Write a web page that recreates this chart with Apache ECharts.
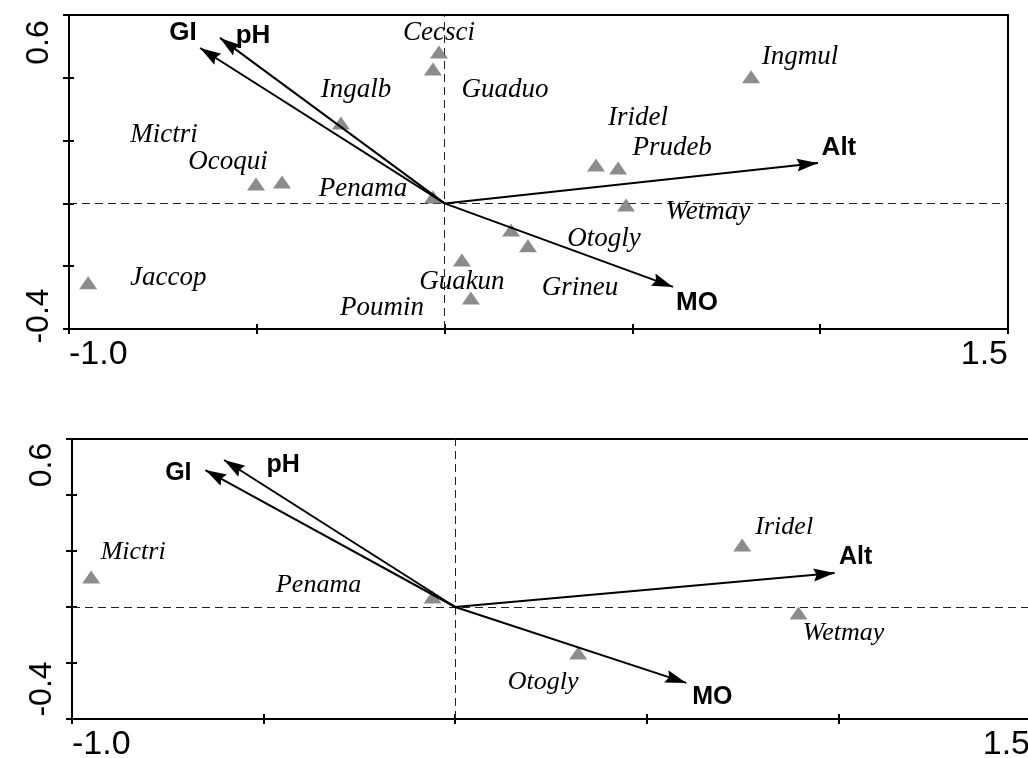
<!DOCTYPE html>
<html>
<head>
<meta charset="utf-8">
<script src="https://cdn.jsdelivr.net/npm/echarts@6/dist/echarts.min.js"></script>
<style>
html,body{margin:0;padding:0;background:#fff;}
#c{width:1028px;height:758px;}
</style>
</head>
<body>
<div id="c"></div>
<script>
// ---------- data ----------
const xTickLabels = ['-1.0', '1.5'];
const yTickLabels = ['-0.4', '0.6'];
const xRange = [-1.0, 1.5];
const yRange = [-0.4, 0.6];

const envNames = ['GI', 'pH', 'Alt', 'MO'];

// top panel
const speciesTop = ['Cecsci','Guaduo','Ingalb','Mictri','Ocoqui','Penama','Jaccop','Guakun','Poumin','Otogly','Grineu','Iridel','Prudeb','Wetmay','Ingmul'];
const speciesTopX = [-0.015,-0.031,-0.276,-0.502,-0.433,-0.031,-0.949,0.046,0.070,0.177,0.222,0.403,0.462,0.483,0.816];
const speciesTopY = [0.482,0.428,0.256,0.062,0.068,0.020,-0.253,-0.180,-0.301,-0.085,-0.135,0.122,0.113,-0.005,0.403];
const envTopX = [-0.651,-0.598,0.994,0.608];
const envTopY = [0.495,0.527,0.129,-0.266];

// bottom panel
const speciesBottom = ['Mictri','Penama','Otogly','Iridel','Wetmay'];
const speciesBottomX = [-0.950,-0.059,0.321,0.749,0.896];
const speciesBottomY = [0.107,0.036,-0.164,0.221,-0.021];
const envBottomX = [-0.652,-0.603,0.990,0.603];
const envBottomY = [0.489,0.525,0.121,-0.271];

// ---------- label placement (style) ----------
const spLabelOffTop = {Cecsci:[0,-19],Guaduo:[72,21],Ingalb:[15,-33],Mictri:[-92,-49],Ocoqui:[-54,-20],Penama:[-70,-8],Jaccop:[80,-5],Guakun:[0,22],Poumin:[-89,10],Otogly:[93,9],Grineu:[52,42],Iridel:[42,-47],Prudeb:[54,-20],Wetmay:[82,7],Ingmul:[49,-20]};
const spLabelOffBottom = {Mictri:[42,-25],Penama:[-114,-12],Otogly:[-35,29],Iridel:[42,-18],Wetmay:[45,20]};
const envLabelOffTop = {GI:[-17,-15],pH:[33,-2],Alt:[21,-15],MO:[24,16]};
const envLabelOffBottom = {GI:[-27,3],pH:[59,5],Alt:[21,-16],MO:[26,14]};

const ARROW = 'path://M0,0L6.5,21L0,18L-6.5,21Z M-22,-22 M22,22';
const near = (a, b) => Math.abs(a - b) < 1e-6;

function makeXAxes(g) {
  const base = {type:'value', gridIndex:g, min:xRange[0], max:xRange[1], interval:0.5,
    splitLine:{show:false}, position:'bottom'};
  return [
    Object.assign({}, base, {
      axisLine:{show:true, onZero:false, lineStyle:{color:'#000', width:2}},
      axisTick:{show:true, inside:false, length:5, lineStyle:{color:'#000', width:2}},
      axisLabel:{show:true, margin:9, fontFamily:'Liberation Sans', fontSize:34, color:'#000',
        alignMinLabel:'left', alignMaxLabel:'right',
        formatter: v => near(v, xRange[0]) ? xTickLabels[0] : (near(v, xRange[1]) ? xTickLabels[1] : '')}
    }),
    Object.assign({}, base, {
      axisLine:{show:false, onZero:false},
      axisTick:{show:true, inside:true, length:5, lineStyle:{color:'#000', width:2}},
      axisLabel:{show:false}
    })
  ];
}
function makeYAxes(g, padTop, padBot) {
  const base = {type:'value', gridIndex:g, min:yRange[0], max:yRange[1], interval:0.2,
    splitLine:{show:false}, position:'left'};
  const rs = {fontFamily:'Liberation Sans', fontSize:32, color:'#000'};
  return [
    Object.assign({}, base, {
      axisLine:{show:true, onZero:false, lineStyle:{color:'#000', width:2}},
      axisTick:{show:true, inside:false, length:6, lineStyle:{color:'#000', width:2}},
      axisLabel:{show:true, rotate:90, margin:14, fontFamily:'Liberation Sans', fontSize:32, color:'#000',
        formatter: v => near(v, yRange[1]) ? '{t|' + yTickLabels[1] + '}' : (near(v, yRange[0]) ? '{b|' + yTickLabels[0] + '}' : ''),
        rich:{t:Object.assign({padding:[0,padTop,0,0]}, rs), b:Object.assign({padding:[0,0,0,padBot]}, rs)}}
    }),
    Object.assign({}, base, {
      axisLine:{show:false, onZero:false},
      axisTick:{show:true, inside:true, length:5, lineStyle:{color:'#000', width:2}},
      axisLabel:{show:false}
    })
  ];
}

function panelSeries(axisIdx, names, xs, ys, envX, envY, spOff, envOff, spFont, envFont) {
  const sp = names.map((n, i) => ({name:n, value:[xs[i], ys[i]], label:{offset:spOff[n]}}));
  const arrows = envNames.map((n, i) => ({name:n, coords:[[0, 0], [envX[i], envY[i]]]}));
  const envPts = envNames.map((n, i) => ({name:n, value:[envX[i], envY[i]], label:{offset:envOff[n]}}));
  return [
    {
      type:'scatter', xAxisIndex:axisIdx, yAxisIndex:axisIdx, data:sp, z:2,
      symbol:'triangle', symbolSize:[18,13], itemStyle:{color:'#6f6f6f'},
      label:{show:true, position:'inside', formatter:p => p.name, color:'#000', opacity:1,
        fontFamily:'Liberation Serif', fontStyle:'italic', fontSize:spFont, align:'center', verticalAlign:'middle'},
      markLine:{silent:true, symbol:['none','none'], animation:false, z:1,
        lineStyle:{color:'#222', width:1, type:[8,5]}, label:{show:false},
        data:[{xAxis:0}, {yAxis:0}]}
    },
    {
      type:'lines', coordinateSystem:'cartesian2d', xAxisIndex:axisIdx, yAxisIndex:axisIdx, z:3,
      data:arrows, symbol:['none', ARROW], symbolSize:44,
      lineStyle:{color:'#000', width:2, opacity:1, curveness:0}, silent:true
    },
    {
      type:'scatter', xAxisIndex:axisIdx, yAxisIndex:axisIdx, data:envPts, z:4,
      symbolSize:1, itemStyle:{color:'rgba(0,0,0,0)'}, silent:true,
      label:{show:true, position:'inside', formatter:p => p.name, color:'#000', opacity:1,
        fontFamily:'Liberation Sans', fontWeight:'bold', fontSize:envFont, align:'center', verticalAlign:'middle'}
    }
  ];
}

const chart = echarts.init(document.getElementById('c'), null, {renderer:'canvas'});
const xa0 = makeXAxes(0), xa1 = makeXAxes(1);
const ya0 = makeYAxes(0, 55, 26), ya1 = makeYAxes(1, 52, 60);
chart.setOption({
  animation:false,
  backgroundColor:'#fff',
  grid:[
    {left:69, top:15, width:939, height:314, show:true, borderColor:'#000', borderWidth:2, backgroundColor:'transparent', containLabel:false, outerBoundsMode:'none'},
    {left:72, top:439, width:958, height:280, show:true, borderColor:'#000', borderWidth:2, backgroundColor:'transparent', containLabel:false, outerBoundsMode:'none'}
  ],
  xAxis:[xa0[0], xa1[0], xa0[1], xa1[1]],
  yAxis:[ya0[0], ya1[0], ya0[1], ya1[1]],
  series: [].concat(
    panelSeries(0, speciesTop, speciesTopX, speciesTopY, envTopX, envTopY, spLabelOffTop, envLabelOffTop, 27, 26),
    panelSeries(1, speciesBottom, speciesBottomX, speciesBottomY, envBottomX, envBottomY, spLabelOffBottom, envLabelOffBottom, 26, 25)
  )
});
</script>
</body>
</html>
